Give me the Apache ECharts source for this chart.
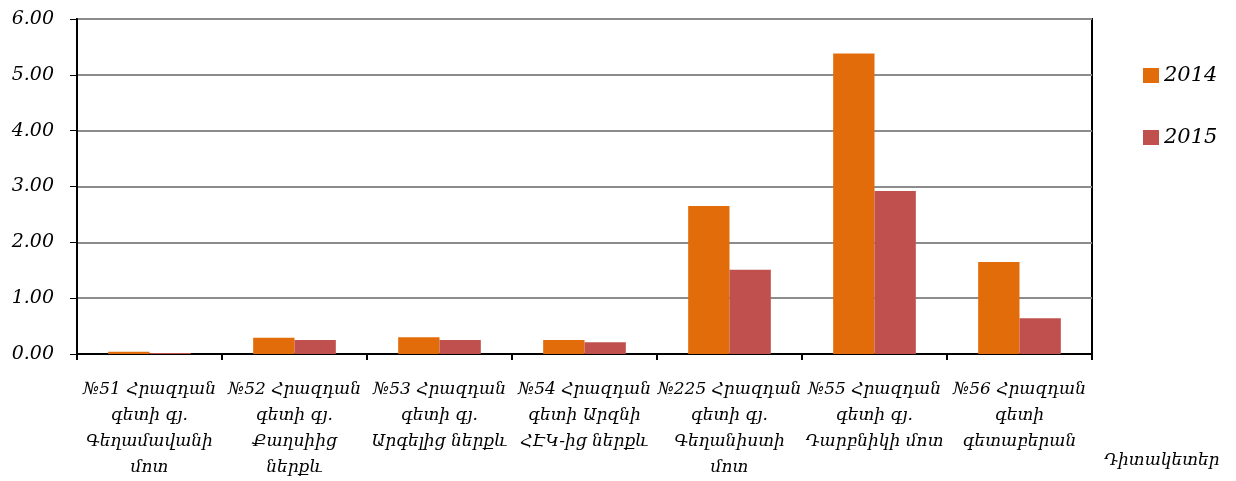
<!DOCTYPE html>
<html>
<head>
<meta charset="utf-8">
<script src="https://cdn.jsdelivr.net/npm/echarts@6/dist/echarts.min.js"></script>
<style>
    html, body { margin: 0; padding: 0; background: #ffffff; }
    #chart { width: 1236px; height: 481px; }
</style>
</head>
<body>
<div id="chart"></div>
<script>
    // դիտակետեր (categories)
    const categories = [
        '№51 Հրազդան\nգետի գյ.\nԳեղամավանի\nմոտ',
        '№52 Հրազդան\nգետի գյ.\nՔաղսիից\nներքև',
        '№53 Հրազդան\nգետի գյ.\nԱրգելից ներքև',
        '№54 Հրազդան\nգետի Արզնի\nՀԷԿ-ից ներքև',
        '№225 Հրազդան\nգետի գյ.\nԳեղանիստի\nմոտ',
        '№55 Հրազդան\nգետի գյ.\nԴարբնիկի մոտ',
        '№56 Հրազդան\nգետի\nգետաբերան'
    ];
    const values2014 = [0.04, 0.29, 0.30, 0.25, 2.65, 5.38, 1.65];
    const values2015 = [0.02, 0.25, 0.25, 0.21, 1.51, 2.92, 0.64];
    const seriesNames = ['2014', '2015'];
    const axisName = 'Դիտակետեր';

    const font = "'DejaVu Serif', serif";
    const chart = echarts.init(document.getElementById('chart'));

    chart.setOption({
        backgroundColor: '#ffffff',
        animation: false,
        color: ['#e36c0a', '#c0504d'],
        grid: {
            left: 77,
            right: 144,
            top: 19,
            bottom: 125,
            show: true,
            borderColor: '#000000',
            borderWidth: 2
        },
        legend: {
            orient: 'vertical',
            left: 1138,
            top: 60,
            itemGap: 41,
            itemWidth: 16,
            itemHeight: 15,
            icon: 'rect',
            data: seriesNames,
            textStyle: {
                fontFamily: font,
                fontStyle: 'italic',
                fontSize: 21,
                color: '#000000'
            }
        },
        xAxis: {
            type: 'category',
            data: categories,
            name: axisName,
            nameLocation: 'end',
            nameGap: 0,
            nameTextStyle: {
                fontFamily: font,
                fontStyle: 'italic',
                fontSize: 17,
                color: '#000000',
                align: 'left',
                verticalAlign: 'top',
                padding: [98, 0, 0, 12]
            },
            axisLine: { lineStyle: { color: '#000000', width: 2 } },
            axisTick: { show: true, length: 6, lineStyle: { color: '#000000', width: 2 } },
            axisLabel: {
                interval: 0,
                margin: 23,
                fontFamily: font,
                fontStyle: 'italic',
                fontSize: 17,
                lineHeight: 26,
                color: '#000000'
            }
        },
        yAxis: {
            type: 'value',
            min: 0,
            max: 6,
            interval: 1,
            axisLine: { show: true, lineStyle: { color: '#000000', width: 2 } },
            axisTick: { show: true, length: 7, lineStyle: { color: '#000000', width: 1 } },
            splitLine: { lineStyle: { color: '#8c8c8c', width: 2 } },
            axisLabel: {
                margin: 23,
                fontFamily: font,
                fontStyle: 'italic',
                fontSize: 19,
                color: '#000000',
                formatter: function (v) { return v.toFixed(2); }
            }
        },
        series: [
            {
                name: seriesNames[0],
                type: 'bar',
                data: values2014,
                barGap: '0%',
                barCategoryGap: '43%'
            },
            {
                name: seriesNames[1],
                type: 'bar',
                data: values2015,
                barGap: '0%',
                barCategoryGap: '43%'
            }
        ]
    });
</script>
</body>
</html>
